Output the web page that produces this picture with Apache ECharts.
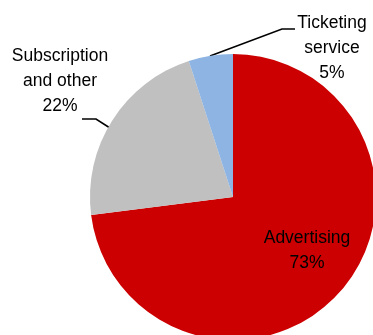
<!DOCTYPE html>
<html>
<head>
<meta charset="utf-8">
<script src="https://cdn.jsdelivr.net/npm/echarts@6/dist/echarts.min.js"></script>
<style>
  html, body { margin: 0; padding: 0; background: #fff; }
  #chart { width: 373px; height: 335px; }
</style>
</head>
<body>
<div id="chart"></div>
<script>
const categories = ['Advertising', 'Subscription\nand other', 'Ticketing\nservice'];
const shares = [73, 22, 5];
const sliceColors = ['#CC0000', '#C0C0C0', '#8DB4E2'];

// hand-placed label anchors (centre of each text block) + leader lines
const labelSpots = [
    { x: 307, y: 251, line: null },
    { x: 60, y: 81, line: [[110, 128], [96, 119], [82, 119]] },
    { x: 332, y: 48, line: [[210, 56], [282, 29], [295, 29]] }
];

const chart = echarts.init(document.getElementById('chart'));

chart.setOption({
    animation: false,
    series: [
        {
            type: 'pie',
            center: [233, 197],
            radius: [0, 143],
            startAngle: 90,
            clockwise: true,
            data: categories.map((name, i) => ({
                name: name,
                value: shares[i],
                itemStyle: { color: sliceColors[i] },
                labelLine: { show: labelSpots[i].line !== null }
            })),
            label: {
                show: true,
                formatter: '{b}\n{c}%',
                fontFamily: '"Liberation Sans", Arial, sans-serif',
                fontSize: 17.5,
                lineHeight: 25,
                color: '#000',
                align: 'center',
                overflow: 'none'
            },
            labelLine: {
                show: true,
                lineStyle: { color: '#000', width: 1.6 }
            },
            emphasis: { disabled: true },
            labelLayout: function (params) {
                const spot = labelSpots[params.dataIndex];
                const out = {
                    x: spot.x,
                    y: spot.y,
                    align: 'center',
                    verticalAlign: 'middle'
                };
                if (spot.line) out.labelLinePoints = spot.line;
                return out;
            }
        }
    ]
});
</script>
</body>
</html>
